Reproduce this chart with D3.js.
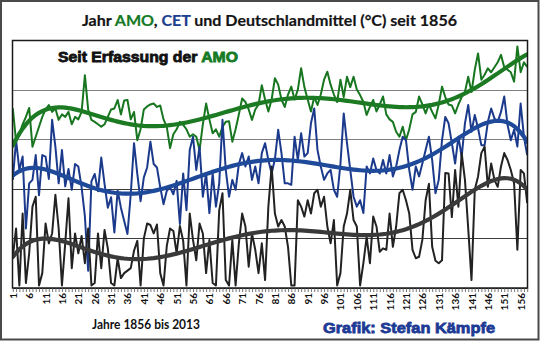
<!DOCTYPE html>
<html><head><meta charset="utf-8">
<script src="https://cdn.jsdelivr.net/npm/d3@7/dist/d3.min.js"></script>
<style>body{margin:0;background:#fff}svg{display:block}</style>
</head><body><svg id="c" width="540" height="341"></svg>
<script>
// Years 1856..2013 numbered 1..158
const categories = d3.range(1, 159);
const tickLabels = ["1","6","11","16","21","26","31","36","41","46","51","56","61","66","71","76","81","86","91","96","101","106","111","116","121","126","131","136","141","146","151","156"];

// values in gridline units (chart has no value axis)
const amo = [
3.62,2.95,3.10,3.30,3.45,3.63,2.85,3.05,3.25,3.45,
3.60,3.69,3.55,3.62,3.39,3.50,3.45,3.55,3.30,3.45,
3.40,3.55,4.29,3.60,3.39,3.35,3.30,3.25,3.30,3.45,
3.60,3.62,3.79,3.50,3.78,3.79,3.40,3.55,2.98,3.20,
3.60,3.66,3.70,3.72,3.65,3.68,3.40,3.25,2.82,3.10,
3.20,3.35,3.29,3.20,3.05,3.10,3.05,2.78,3.30,3.72,
3.40,3.12,3.20,3.05,3.25,3.35,3.36,2.95,3.20,3.50,
3.82,3.75,3.60,3.39,3.60,3.70,4.09,3.80,3.56,3.80,
4.23,4.10,3.80,3.65,3.90,4.06,3.80,4.00,4.43,4.05,
3.80,3.56,3.85,3.69,3.90,4.20,4.36,4.10,3.90,3.75,
4.20,3.85,4.26,4.05,4.26,4.00,3.89,3.75,3.49,3.65,
3.79,3.56,3.70,3.86,3.50,3.40,3.35,3.15,3.05,3.25,
2.98,3.20,3.50,3.55,3.86,3.70,3.52,3.70,3.55,3.42,
3.70,4.06,3.85,3.70,3.68,3.52,3.70,3.85,3.95,4.26,
3.95,4.40,4.73,4.20,4.30,4.43,4.35,4.45,4.55,4.70,
4.45,4.40,4.35,4.16,4.87,4.35,4.55,4.46];

const cet = [
2.18,2.98,2.38,2.65,1.20,2.11,2.18,2.68,1.87,2.68,
2.65,2.20,3.39,2.85,2.11,2.78,2.05,2.40,1.98,2.50,
2.45,2.03,1.45,0.35,2.15,2.30,1.95,2.63,2.10,1.62,
1.83,1.12,1.96,1.62,1.35,1.09,1.89,2.92,2.30,1.75,
2.23,2.43,2.95,2.50,2.43,2.03,1.69,1.96,2.03,1.89,
2.16,1.29,2.31,1.57,2.78,3.05,2.38,2.85,1.84,2.31,
1.51,2.31,1.64,2.11,3.39,2.38,1.84,2.18,1.98,2.50,
2.72,2.45,2.65,2.18,2.45,2.11,2.72,2.92,2.58,2.31,
2.60,3.19,2.72,2.11,2.11,2.08,3.05,2.58,3.12,2.65,
2.72,3.32,3.62,2.78,2.45,2.18,2.31,2.38,1.98,1.84,
2.50,3.52,2.92,2.38,1.84,1.64,1.77,1.51,2.45,2.31,
2.61,2.38,2.31,2.58,2.31,2.68,2.25,2.45,2.78,3.05,
2.98,2.38,1.98,2.45,2.25,2.51,2.78,3.05,2.58,1.91,
2.18,2.98,3.45,3.32,2.92,2.51,3.05,2.65,3.32,3.69,
3.15,3.49,3.22,2.88,2.88,3.35,3.62,3.42,3.35,3.55,
3.86,3.29,2.98,3.19,2.85,3.72,3.05,2.68];

const deutschland = [
0.63,1.20,0.05,1.50,0.10,0.70,1.64,1.84,0.05,0.30,
1.30,0.90,1.10,1.88,1.20,0.05,0.90,1.81,0.40,1.10,
0.70,1.05,0.50,1.20,0.05,0.10,1.10,0.40,1.17,0.80,
0.10,0.05,0.60,0.20,0.30,0.35,0.40,0.75,0.95,0.05,
1.00,1.30,1.27,1.10,1.28,0.30,0.05,0.85,1.20,1.15,
0.70,1.25,0.95,0.05,1.50,0.97,0.56,1.30,1.10,0.30,
0.97,0.10,0.05,1.57,1.91,0.16,0.05,0.97,0.05,0.90,
1.50,1.24,0.43,1.10,0.77,0.30,0.90,0.16,1.64,2.45,
1.50,1.24,1.37,1.24,0.83,0.05,0.05,1.77,1.64,1.44,
1.77,1.50,1.91,1.98,1.64,1.84,1.24,0.90,1.37,0.05,
0.30,1.24,1.50,1.98,1.37,1.24,0.05,0.50,1.03,0.50,
1.44,1.24,0.73,0.80,0.77,1.50,0.83,1.24,1.91,1.98,
1.77,1.50,0.77,0.60,0.63,0.97,1.77,2.10,0.83,0.55,
0.50,0.56,2.32,2.31,1.43,2.38,1.64,2.72,2.18,1.20,
0.16,1.98,2.25,2.72,2.85,2.04,2.51,2.18,2.04,2.45,
2.72,2.58,2.38,2.11,0.77,2.38,2.31,1.71];

const seriesNames = ["AMO","CET","Deutschland"];
const rawColors = ["#17761f","#1c3a8c","#222222"];
const trendColors = ["#1b7a22","#1f4a9a","#3a3a3a"];

const W = 540, H = 341;
const plot = {left: 12.5, right: 527.5, top: 40, bottom: 288};
const svg = d3.select("#c");

const x = d3.scalePoint().domain(categories).range([12.8, 527.2]);
const y = d3.scaleLinear().domain([0, 5]).range([plot.bottom, plot.top]);

// outer frame
svg.append("rect").attr("x",1).attr("y",1).attr("width",W-2.5).attr("height",H-2.5)
  .attr("fill","#fff").attr("stroke","#4a4a4a").attr("stroke-width",2);

// gridlines
const grid = [1,2,3,4];
svg.append("g").selectAll("line").data(grid).join("line")
  .attr("x1",plot.left).attr("x2",plot.right)
  .attr("y1",d=>Math.round(y(d))+0.5).attr("y2",d=>Math.round(y(d))+0.5)
  .attr("stroke",d=> d>=3 ? "#808080" : "#3c3c3c").attr("stroke-width",1.2);

// polynomial trend (order 6 least squares)
function polyfit(xs, ys, deg){
  const n = deg+1;
  const A = Array.from({length:n},()=>new Array(n+1).fill(0));
  xs.forEach((xv,k)=>{
    for(let r=0;r<n;r++){
      for(let c=0;c<n;c++) A[r][c]+=Math.pow(xv,r+c);
      A[r][n]+=ys[k]*Math.pow(xv,r);
    }
  });
  for(let i=0;i<n;i++){
    let p=i; for(let r=i+1;r<n;r++) if(Math.abs(A[r][i])>Math.abs(A[p][i])) p=r;
    [A[i],A[p]]=[A[p],A[i]];
    for(let r=0;r<n;r++){ if(r===i) continue; const f=A[r][i]/A[i][i];
      for(let c=i;c<=n;c++) A[r][c]-=f*A[i][c]; }
  }
  return A.map((row,i)=>row[n]/row[i]);
}
const tnorm = d => (d-79.5)/78.5;
function trend(vals){
  const co = polyfit(categories.map(tnorm), vals, 6);
  return categories.map(d=>{const t=tnorm(d); return co.reduce((s,c,j)=>s+c*Math.pow(t,j),0);});
}

svg.append("defs").append("clipPath").attr("id","clip").append("rect")
  .attr("x",plot.left).attr("y",plot.top).attr("width",plot.right-plot.left).attr("height",plot.bottom-plot.top);

const line = d3.line().x((d,i)=>x(categories[i])).y(d=>y(d));
const gLines = svg.append("g").attr("clip-path","url(#clip)");
[amo, cet, deutschland].forEach((vals, k)=>{
  gLines.append("path").datum(vals).attr("d",line).attr("fill","none")
    .attr("stroke",rawColors[k]).attr("stroke-width",2).attr("stroke-linejoin","round");
});
[amo, cet, deutschland].forEach((vals, k)=>{
  gLines.append("path").datum(trend(vals)).attr("d",line).attr("fill","none")
    .attr("stroke",trendColors[k]).attr("stroke-width",4.2).attr("stroke-linecap","round");
});

// plot frame
svg.append("rect").attr("x",plot.left).attr("y",plot.top+0.5)
  .attr("width",plot.right-plot.left).attr("height",plot.bottom-plot.top-0.5)
  .attr("fill","none").attr("stroke","#1a1a1a").attr("stroke-width",1.5);

// x axis
const axis = d3.axisBottom(x).tickSizeInner(4).tickSizeOuter(0)
  .tickFormat(d => tickLabels.includes(String(d)) ? String(d) : "");
const gx = svg.append("g").attr("transform",`translate(0,${plot.bottom})`).call(axis);
gx.select(".domain").attr("stroke","#1a1a1a");
gx.selectAll(".tick line").attr("stroke","#555").attr("stroke-width",0.8);
gx.selectAll(".tick text")
  .attr("transform","rotate(-90)").attr("x",-5).attr("y",0).attr("dy","0.35em")
  .attr("text-anchor","end").attr("fill","#111")
  .style("font-family","Lato, 'Liberation Sans', sans-serif").style("font-weight","bold").style("font-size","10px");

// title
const title = svg.append("text").attr("x",82).attr("y",26)
  .attr("textLength",375).attr("lengthAdjust","spacingAndGlyphs")
  .style("font-family","Lato, 'Open Sans', sans-serif").style("font-weight","bold").style("font-size","15.5px")
  .attr("fill","#141414").attr("stroke","#141414").attr("stroke-width",0.2);
title.append("tspan").text("Jahr ");
title.append("tspan").attr("fill","#157a24").attr("stroke","#157a24").text("AMO");
title.append("tspan").text(", ");
title.append("tspan").attr("fill","#1c3f8f").attr("stroke","#1c3f8f").text("CET");
title.append("tspan").text(" und Deutschlandmittel (°C) seit 1856");

// inner note
const note = svg.append("text").attr("x",58).attr("y",62)
  .attr("textLength",180).attr("lengthAdjust","spacingAndGlyphs")
  .style("font-family","'Liberation Sans', Arial, sans-serif").style("font-weight","bold").style("font-size","14.5px")
  .attr("fill","#111").attr("stroke","#111").attr("stroke-width",0.8);
note.append("tspan").text("Seit Erfassung der ");
note.append("tspan").attr("fill","#157a24").attr("stroke","#157a24").text("AMO");

// footer texts
svg.append("text").attr("x",92).attr("y",329)
  .attr("textLength",108).attr("lengthAdjust","spacingAndGlyphs")
  .style("font-family","Lato, sans-serif").style("font-weight","bold").style("font-size","12.5px")
  .attr("fill","#111").text("Jahre 1856 bis 2013");
svg.append("text").attr("x",323).attr("y",333)
  .attr("textLength",172).attr("lengthAdjust","spacingAndGlyphs")
  .style("font-family","'Liberation Sans', Arial, sans-serif").style("font-weight","bold").style("font-size","15.5px")
  .attr("fill","#1c3a94").attr("stroke","#1c3a94").attr("stroke-width",0.8)
  .text("Grafik: Stefan Kämpfe");
</script></body></html>
